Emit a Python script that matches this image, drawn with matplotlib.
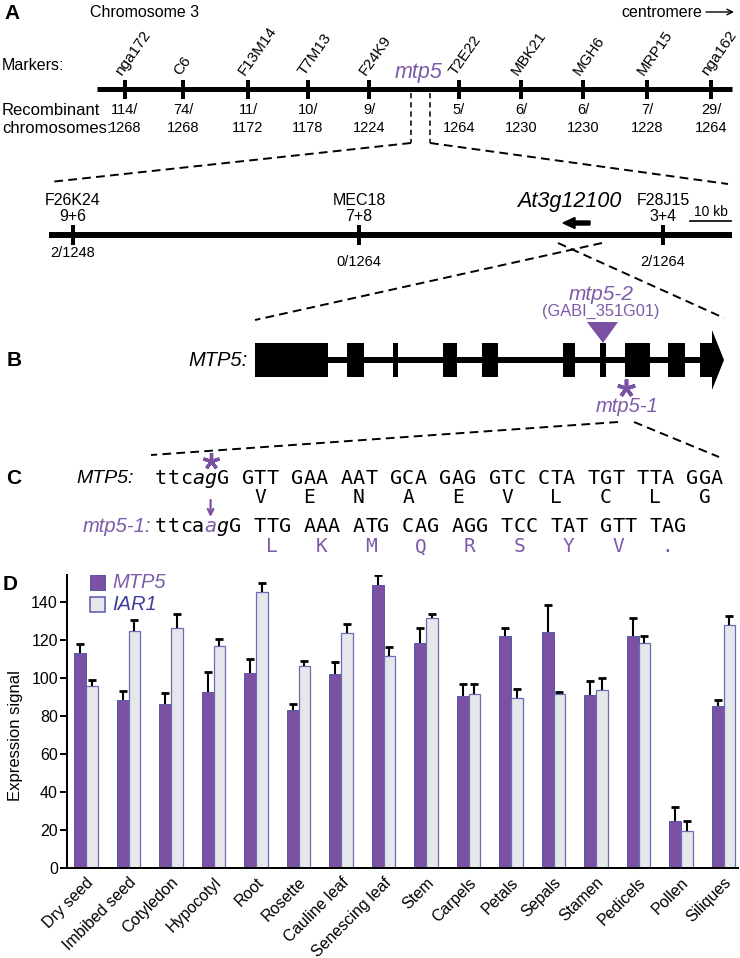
import matplotlib
matplotlib.use('Agg')
import matplotlib.pyplot as plt
from matplotlib.patches import Rectangle, Polygon, FancyArrow
import numpy as np

plt.rcParams['font.family'] = ['Liberation Sans', 'DejaVu Sans']

# ---------------- data ----------------
markers = ['nga172', 'C6', 'F13M14', 'T7M13', 'F24K9', 'T2E22', 'MBK21', 'MGH6', 'MRP15', 'nga162']
marker_pos = [125, 183, 248, 308, 369, 459, 521, 583, 647, 711]
recomb_num = ['114', '74', '11', '10', '9', '5', '6', '6', '7', '29']
recomb_den = ['1268', '1268', '1172', '1178', '1224', '1264', '1230', '1230', '1228', '1264']

fine_markers = ['F26K24', 'MEC18', 'F28J15']
fine_pos = [73, 359, 663]
fine_alleles = ['9+6', '7+8', '3+4']
fine_recomb = ['2/1248', '0/1264', '2/1264']
fine_recomb_y = [253, 262, 262]

exons = [(255, 328), (347, 364), (393, 398), (443, 457), (482, 498),
         (563, 575), (600, 606), (625, 650), (668, 685)]

seq_wt = 'ttcagG GTT GAA AAT GCA GAG GTC CTA TGT TTA GGA'
aa_wt = ['V', 'E', 'N', 'A', 'E', 'V', 'L', 'C', 'L', 'G']
seq_mut = 'ttcaagG TTG AAA ATG CAG AGG TCC TAT GTT TAG'
aa_mut = ['L', 'K', 'M', 'Q', 'R', 'S', 'Y', 'V', '.']

tissues = ['Dry seed', 'Imbibed seed', 'Cotyledon', 'Hypocotyl', 'Root', 'Rosette',
           'Cauline leaf', 'Senescing leaf', 'Stem', 'Carpels', 'Petals', 'Sepals',
           'Stamen', 'Pedicels', 'Pollen', 'Siliques']
mtp5 = [113, 88.5, 86, 92.6, 102.7, 83, 102.2, 149, 118, 90.6, 122, 124.2, 91.1, 122, 24.8, 85]
mtp5_err = [4.9, 4.5, 6, 10.4, 7.3, 3.4, 6.3, 5.2, 8.3, 6.3, 4.3, 14, 7.2, 9.2, 7.5, 3.2]
iar1 = [95.7, 124.6, 126.3, 116.9, 145, 106.4, 123.5, 111.3, 131.2, 91.3, 89.4, 91.3, 93.4, 118.3, 19.4, 127.7]
iar1_err = [3.3, 5.9, 7, 3.3, 4.8, 2.3, 4.9, 4.9, 2.1, 5.6, 4.7, 1.4, 6.3, 3.7, 5.4, 4.9]

# ---------------- style ----------------
purple = '#7B52A3'
ptext = '#7E5AAA'
blue_text = '#3C3F9A'
grey_fill = '#E5E7EA'
edge = '#5558A8'
PX = 0.72  # points per pixel at dpi 100

fig = plt.figure(figsize=(7.4, 9.58), dpi=100)

# ---------------- panel D ----------------
W, H = 740, 958
axD = fig.add_axes([67 / W, 1 - 868 / H, (738 - 67) / W, (868 - 575) / H])
x = np.arange(len(tissues))
w = 0.28
axD.bar(x - w / 2, mtp5, w, color=purple, edgecolor=edge, linewidth=0.7, zorder=2)
axD.bar(x + w / 2, iar1, w, color=grey_fill, edgecolor='#6A6DB3', linewidth=0.9, zorder=2)
for xs, v, e in [(x - w / 2, mtp5, mtp5_err), (x + w / 2, iar1, iar1_err)]:
    v = np.array(v); e = np.array(e)
    axD.vlines(xs, v, v + e, color='black', lw=1.5, zorder=3)
    axD.plot(xs, v + e, ls='none', marker='_', ms=6, mew=2.0, color='black', zorder=3)
axD.set_xlim(-0.447, 15.34)
axD.set_ylim(0, 154)
axD.set_yticks(range(0, 141, 20))
axD.set_xticks(x)
axD.set_xticklabels(tissues, rotation=45, ha='right', rotation_mode='anchor', fontsize=11.5)
axD.tick_params(axis='x', length=0, pad=5)
axD.tick_params(axis='y', length=5, width=1.44, pad=1.5, labelsize=11.5)
for s in ['top', 'right']:
    axD.spines[s].set_visible(False)
for s in ['left', 'bottom']:
    axD.spines[s].set_linewidth(1.44)

# ---------------- overlay for diagram ----------------
ax = fig.add_axes([0, 0, 1, 1], zorder=5)
ax.patch.set_alpha(0)
ax.set_xlim(0, W)
ax.set_ylim(H, 0)
ax.axis('off')

def txt(xx, yy, s, **kw):
    kw.setdefault('ha', 'center')
    kw.setdefault('va', 'center')
    ax.text(xx, yy, s, **kw)

# Panel A
txt(12, 13, 'A', fontsize=15, weight='bold')
txt(90, 12, 'Chromosome 3', fontsize=11.5, ha='left')
txt(702, 12, 'centromere', fontsize=11.5, ha='right')
ax.annotate('', xy=(734, 12), xytext=(706, 12),
            arrowprops=dict(arrowstyle='->', lw=1.0, color='black', shrinkA=0, shrinkB=0))
txt(2, 65, 'Markers:', fontsize=11.5, ha='left')
ax.plot([97, 732], [89, 89], color='black', lw=5 * PX, solid_capstyle='butt')
for name, p, n, d in zip(markers, marker_pos, recomb_num, recomb_den):
    ax.plot([p, p], [80, 99], color='black', lw=4 * PX, solid_capstyle='butt')
    ax.text(p - 3, 76, name, rotation=55, rotation_mode='anchor', ha='left', va='baseline',
            fontsize=11)
    txt(p, 110, n + '/', fontsize=10.5)
    txt(p, 128, d, fontsize=10.5)
txt(2, 110, 'Recombinant', fontsize=12, ha='left')
txt(2, 128, 'chromosomes:', fontsize=12, ha='left')
txt(419, 72, 'mtp5', fontsize=15.5, style='italic', color=ptext)
dash_kw = dict(color='black', lw=1.1, ls=(0, (3.5, 2.5)))
ax.plot([411, 411], [93, 143], **dash_kw)
ax.plot([430, 430], [93, 143], **dash_kw)
dash2 = dict(color='black', lw=1.4, ls=(0, (4.5, 2.7)))
ax.plot([411, 50], [143, 182], **dash2)
ax.plot([430, 728], [143, 184], **dash2)

ax.plot([49, 732], [235, 235], color='black', lw=6 * PX, solid_capstyle='butt')
for name, p, al, rc, ry in zip(fine_markers, fine_pos, fine_alleles, fine_recomb, fine_recomb_y):
    ax.plot([p, p], [225, 245], color='black', lw=4 * PX, solid_capstyle='butt')
    txt(p, 200, name, fontsize=11.5)
    txt(p, 216, al, fontsize=11.5)
    txt(p, ry, rc, fontsize=10.5)
txt(569, 201, 'At3g12100', fontsize=15.5, style='italic')
ax.add_patch(FancyArrow(590, 223, -27, 0, width=4, head_width=11, head_length=12,
                        length_includes_head=True, color='black'))
txt(711, 212, '10 kb', fontsize=10)
ax.plot([690, 731], [221, 221], color='black', lw=1.2)
ax.plot([602, 255], [243, 320], **dash2)
ax.plot([558, 724], [243, 318], **dash2)

# Panel B
txt(14, 360, 'B', fontsize=15, weight='bold')
txt(248, 360, 'MTP5:', fontsize=14.5, style='italic', ha='right')
ax.plot([255, 700], [360, 360], color='black', lw=6 * PX, solid_capstyle='butt')
for a, b in exons:
    ax.add_patch(Rectangle((a, 343), b - a, 34, color='black', lw=0))
ax.add_patch(Polygon([(700, 343), (712, 343), (712, 330), (724, 360), (712, 390),
                      (712, 377), (700, 377)], closed=True, color='black', lw=0))
ax.add_patch(Polygon([(587, 322), (618, 322), (603, 343)], closed=True, color=purple, lw=0))
txt(601, 294, 'mtp5-2', fontsize=15, style='italic', color=ptext)
txt(601, 311, '(GABI_351G01)', fontsize=11.8, color=ptext)
ax.plot(626, 388, marker=(5, 2, 0), ms=13, mew=2.6, color=purple)
txt(627, 406, 'mtp5-1', fontsize=14.5, style='italic', color=ptext)
ax.plot([618, 151], [422, 455], **dash2)
ax.plot([634, 719], [422, 457], **dash2)

# Panel C
txt(14, 478, 'C', fontsize=15, weight='bold')
txt(134, 478, 'MTP5:', fontsize=14, style='italic', ha='right')
txt(151, 527, 'mtp5-1:', fontsize=14.5, style='italic', ha='right', color=ptext)
x0, cw = 155, 12.35
mono = 'DejaVu Sans Mono'
for i, ch in enumerate(seq_wt):
    if ch == ' ':
        continue
    st = 'italic' if i in (3, 4) else 'normal'
    ax.text(x0 + (i + 0.5) * cw, 478, ch, family=mono, fontsize=14.5, style=st,
            ha='center', va='center')
for i, ch in enumerate(seq_mut):
    if ch == ' ':
        continue
    st = 'italic' if i in (4, 5) else 'normal'
    col = ptext if i == 4 else 'black'
    ax.text(x0 + (i + 0.5) * cw, 527, ch, family=mono, fontsize=14.5, style=st, color=col,
            ha='center', va='center')
for k, a in enumerate(aa_wt):
    ax.text(x0 + (8 + 4 * k + 0.5) * cw, 497, a, family=mono, fontsize=14, ha='center', va='center')
for k, a in enumerate(aa_mut):
    ax.text(x0 + (9 + 4 * k + 0.5) * cw, 547, a, family=mono, fontsize=14, ha='center',
            va='center', color=ptext)
ax.plot(x0 + 4.5 * cw, 461, marker=(5, 2, 0), ms=12, mew=2.4, color=purple)
ax.annotate('', xy=(x0 + 4.5 * cw, 517), xytext=(x0 + 4.5 * cw, 500),
            arrowprops=dict(arrowstyle='->', lw=1.6, color=purple, shrinkA=0, shrinkB=0))

# Panel D extras
txt(10, 585, 'D', fontsize=15, weight='bold')
ax.add_patch(Rectangle((90, 575), 15, 15, facecolor=purple, edgecolor=edge, lw=0.7))
ax.add_patch(Rectangle((90, 597), 15, 15, facecolor=grey_fill, edgecolor='#5558A8', lw=1.1))
txt(112, 583, 'MTP5', fontsize=14.5, style='italic', color=ptext, ha='left')
txt(112, 605, 'IAR1', fontsize=14.5, style='italic', color=blue_text, ha='left')
txt(16, 736, 'Expression signal', fontsize=12, rotation=90)

fig.savefig('out.png', dpi=100)
